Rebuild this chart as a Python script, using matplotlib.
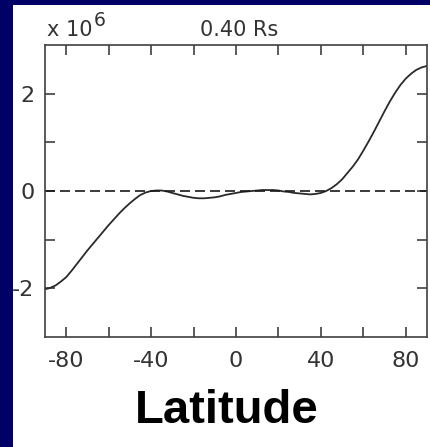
import matplotlib
matplotlib.use("Agg")
import matplotlib.pyplot as plt
from matplotlib.patches import Rectangle

# Data (latitude in degrees, value in units of 1e6)
latitude = [-90, -87.5, -85, -82.5, -80, -77.5, -75, -72.5, -70, -67.5, -65, -62.5,
            -60, -57.5, -55, -52.5, -50, -47.5, -45, -42.5, -40, -37.5, -35, -32.5,
            -30, -27.5, -25, -22.5, -20, -17.5, -15, -12.5, -10, -7.5, -5, -2.5, 0,
            2.5, 5, 7.5, 10, 12.5, 15, 17.5, 20, 22.5, 25, 27.5, 30, 32.5, 35, 37.5,
            40, 42.5, 45, 47.5, 50, 52.5, 55, 57.5, 60, 62.5, 65, 67.5, 70, 72.5, 75,
            77.5, 80, 82.5, 85, 87.5, 90]
values = [-2.02, -1.99, -1.94, -1.86, -1.77, -1.64, -1.50, -1.36, -1.22, -1.09, -0.96,
          -0.83, -0.70, -0.58, -0.46, -0.35, -0.25, -0.16, -0.08, -0.03, 0.0, 0.01,
          0.01, -0.01, -0.04, -0.07, -0.10, -0.12, -0.14, -0.15, -0.15, -0.14, -0.13,
          -0.11, -0.08, -0.06, -0.04, -0.02, -0.01, 0.0, 0.01, 0.02, 0.02, 0.02, 0.01,
          -0.01, -0.02, -0.04, -0.05, -0.06, -0.07, -0.06, -0.04, 0.0, 0.06, 0.14,
          0.24, 0.37, 0.50, 0.65, 0.83, 1.02, 1.22, 1.43, 1.64, 1.84, 2.02, 2.18, 2.31,
          2.41, 2.49, 2.54, 2.57]
xticks = [-80, -60, -40, -20, 0, 20, 40, 60, 80]
xlabels = ["-80", "", "-40", "", "0", "", "40", "", "80"]
yticks = [-2, -1, 0, 1, 2]
ylabels = ["-2", "", "0", "", "2"]
title = "0.40 Rs"
mult_base = "x 10"
mult_exp = "6"
xlabel = "Latitude"

W, H = 431, 447
fig = plt.figure(figsize=(W / 100, H / 100), dpi=100)
fig.patch.set_facecolor("white")

ax = fig.add_axes([45 / W, 110 / H, 382 / W, 292 / H])
ax.plot(latitude, values, color="#2a2a2a", lw=1.3)
ax.axhline(0, color="#1a1a1a", lw=1.2, ls=(0, (6, 3)))
ax.set_xlim(-90, 90)
ax.set_ylim(-3, 3)
ax.set_xticks(xticks)
ax.set_xticklabels(xlabels)
ax.set_yticks(yticks)
ax.set_yticklabels(ylabels)

tick_font = "DejaVu Sans"
ax.tick_params(direction="in", length=7, width=1.2, color="#404040",
               top=True, right=True, labelsize=16, labelcolor="#333333")
ax.tick_params(axis="x", pad=10)
ax.tick_params(axis="y", pad=7.5)
for lab in ax.get_xticklabels() + ax.get_yticklabels():
    lab.set_fontfamily(tick_font)
for sp in ax.spines.values():
    sp.set_color("#404040")
    sp.set_linewidth(1.2)

fig.text(239 / W, 1 - 36 / H, title, ha="center", va="baseline",
         fontsize=15, color="#333333", family=tick_font)
t_base = fig.text(47 / W, 1 - 36 / H, mult_base, ha="left", va="baseline",
                  fontsize=15, color="#333333", family=tick_font)
fig.canvas.draw()
bb = t_base.get_window_extent()
fig.text((bb.x1 + 1) / W, 1 - 26 / H, mult_exp, ha="left", va="baseline",
         fontsize=13.5, color="#333333", family=tick_font)
fig.text(227 / W, 1 - 423 / H, xlabel, ha="center", va="baseline",
         fontsize=34, fontweight="bold", color="black", family="Liberation Sans")

navy = "#000066"
fig.add_artist(Rectangle((0, 0), 13 / W, 1, transform=fig.transFigure,
                         facecolor=navy, edgecolor="none", zorder=10))
fig.add_artist(Rectangle((0, 1 - 5 / H), 1, 5 / H, transform=fig.transFigure,
                         facecolor=navy, edgecolor="none", zorder=10))

fig.savefig("out.png", dpi=100)
